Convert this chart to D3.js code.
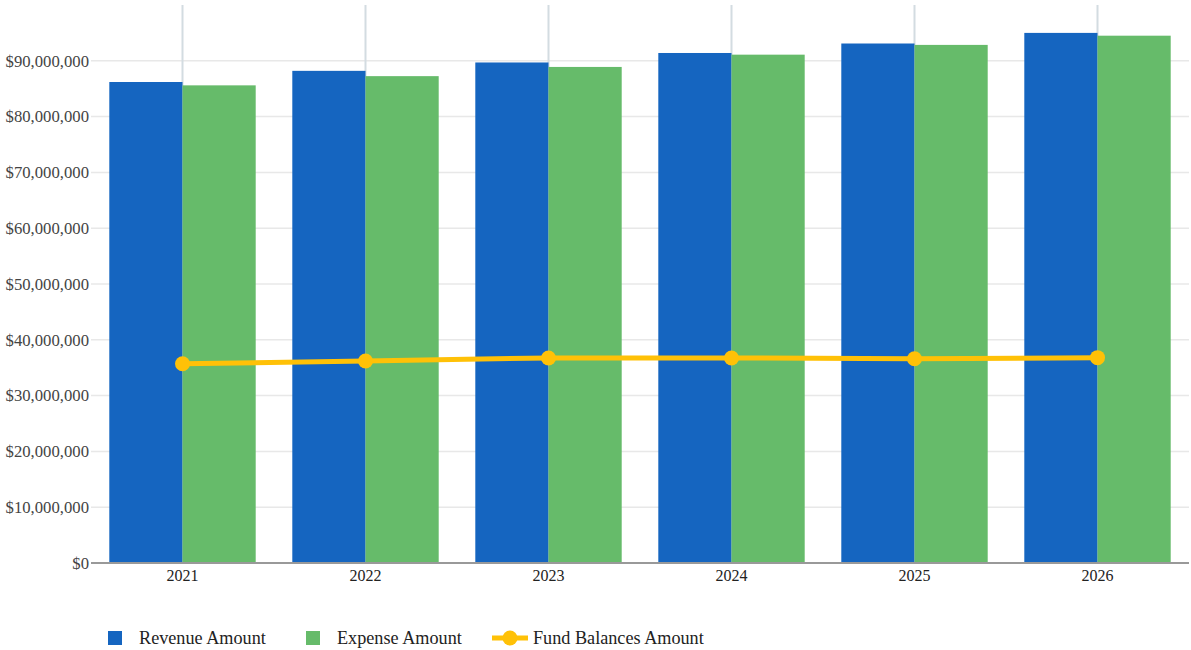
<!DOCTYPE html>
<html><head><meta charset="utf-8">
<script src="https://cdn.jsdelivr.net/npm/d3@7"></script>
<style>
html,body{margin:0;padding:0;background:#fff;}
svg{display:block;font-family:"Liberation Serif","Times New Roman",serif;}
</style></head>
<body>
<svg id="chart" width="1191" height="650"></svg>
<script>
const years = ["2021","2022","2023","2024","2025","2026"];
const revenue = [86200000, 88200000, 89700000, 91400000, 93100000, 95000000];
const expense = [85600000, 87250000, 88900000, 91100000, 92850000, 94500000];
const fundBalances = [35700000, 36200000, 36750000, 36750000, 36600000, 36800000];
const yTicks = [0,10000000,20000000,30000000,40000000,50000000,60000000,70000000,80000000,90000000];
const seriesNames = ["Revenue Amount","Expense Amount","Fund Balances Amount"];
const colors = ["#1565c0","#66bb6a","#ffc107"];

(function(){
const svg = d3.select("#chart");
const pL = 91, pR = 1189, pT = 5, pB = 563;

const x = d3.scaleBand().domain(years).range([pL,pR]).paddingInner(0.2).paddingOuter(0.1);
const y = d3.scaleLinear().domain([0,100000000]).range([pB,pT]);
const xs = d3.scaleBand().domain([0,1]).range([0,x.bandwidth()]);
const cx = d => x(d)+x.bandwidth()/2;

svg.append("g").selectAll("line").data(yTicks.slice(1)).join("line")
  .attr("x1",pL).attr("x2",pR).attr("y1",d=>y(d)).attr("y2",d=>y(d))
  .attr("stroke","#e8e8e8").attr("stroke-width",1.5);

svg.append("g").selectAll("line").data(years).join("line")
  .attr("x1",cx).attr("x2",cx).attr("y1",pT).attr("y2",pB)
  .attr("stroke","#d3dce1").attr("stroke-width",2);

const bars = svg.append("g");
[revenue, expense].forEach((vals,i)=>{
  bars.append("g").selectAll("rect").data(years).join("rect")
    .attr("x",d=>x(d)+xs(i)).attr("width",xs.bandwidth())
    .attr("y",(d,j)=>y(vals[j])).attr("height",(d,j)=>pB-y(vals[j]))
    .attr("fill",colors[i]);
});

svg.append("line").attr("x1",pL).attr("x2",pR).attr("y1",pB).attr("y2",pB)
  .attr("stroke","#999").attr("stroke-width",2);

const yAxis = d3.axisLeft(y).tickValues(yTicks).tickSize(0).tickPadding(2)
  .tickFormat(d=>"$"+d3.format(",")(d));
const ya = svg.append("g").attr("transform",`translate(${pL},0)`).call(yAxis);
ya.select(".domain").remove();
ya.selectAll("text").attr("font-size",16.7).attr("fill","#444").attr("font-family","Liberation Serif, serif");

const xAxis = d3.axisBottom(x).tickSize(0).tickPadding(7);
const xa = svg.append("g").attr("transform",`translate(0,${pB})`).call(xAxis);
xa.select(".domain").remove();
xa.selectAll("text").attr("font-size",16).attr("fill","#222").attr("font-family","Liberation Serif, serif");

const line = d3.line().x((d,i)=>cx(years[i])).y(d=>y(d));
svg.append("path").datum(fundBalances).attr("d",line)
  .attr("fill","none").attr("stroke",colors[2]).attr("stroke-width",5);
svg.append("g").selectAll("circle").data(fundBalances).join("circle")
  .attr("cx",(d,i)=>cx(years[i])).attr("cy",d=>y(d)).attr("r",7.5).attr("fill",colors[2]);

const lg = svg.append("g").attr("font-size",18.2).attr("fill","#222");
const legendX = [108, 306, 492];
seriesNames.forEach((n,i)=>{
  const g = lg.append("g").attr("transform",`translate(${legendX[i]},638)`);
  if(i<2){
    g.append("rect").attr("x",0).attr("y",-7).attr("width",14).attr("height",14).attr("fill",colors[i]);
    g.append("text").attr("x",31).attr("dy","0.35em").text(n);
  } else {
    g.append("line").attr("x1",0).attr("x2",36).attr("stroke",colors[2]).attr("stroke-width",5);
    g.append("circle").attr("cx",18).attr("r",7.5).attr("fill",colors[2]);
    g.append("text").attr("x",41).attr("dy","0.35em").text(n);
  }
});
})();
</script>
</body></html>
